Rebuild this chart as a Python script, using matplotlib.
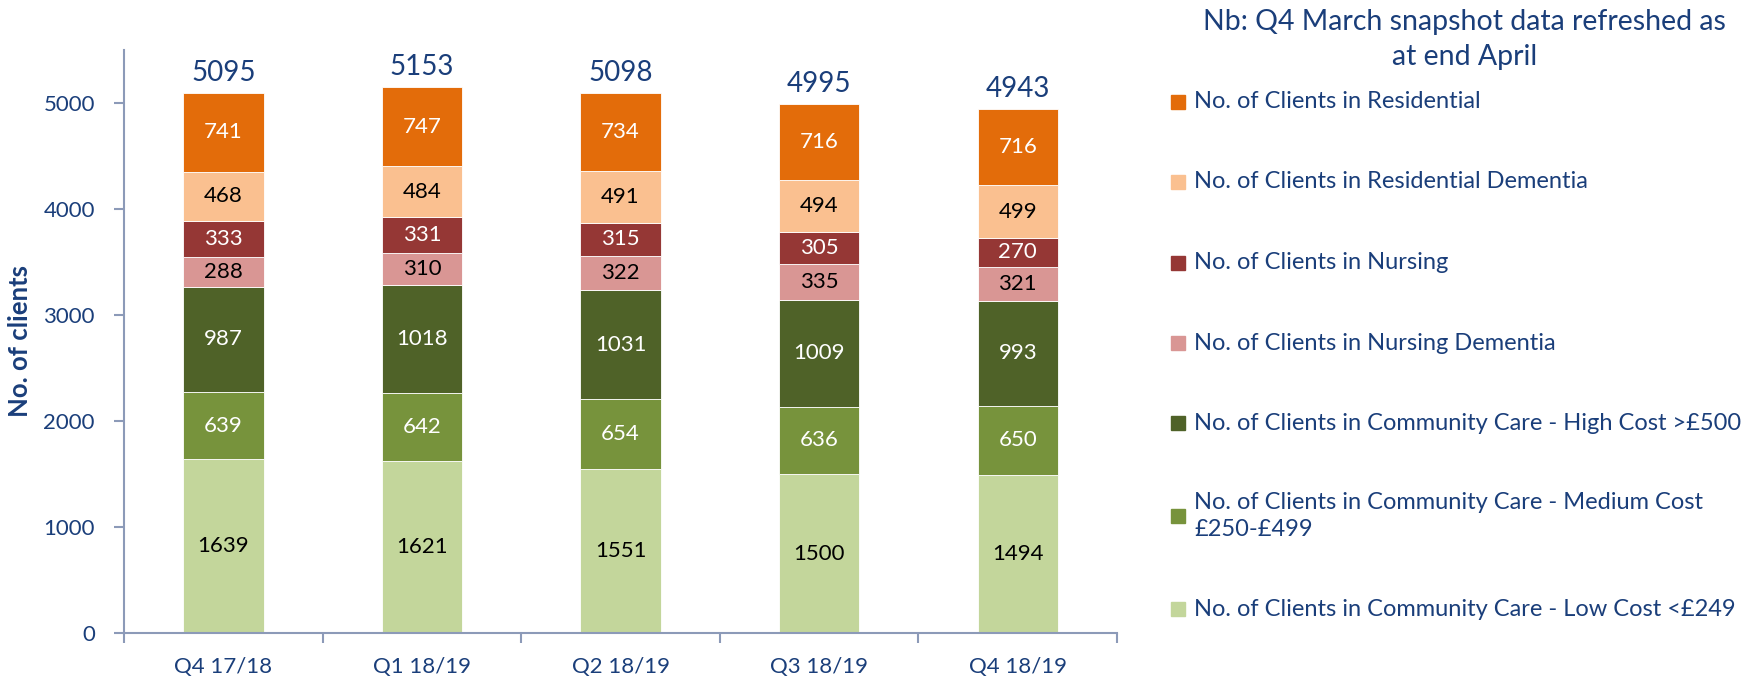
import matplotlib.pyplot as plt
import numpy as np
from matplotlib.patches import Rectangle

plt.rcParams['font.family'] = ['Lato', 'DejaVu Sans']

# data (bottom to top)
quarters = ['Q4 17/18', 'Q1 18/19', 'Q2 18/19', 'Q3 18/19', 'Q4 18/19']
low_cost = [1639, 1621, 1551, 1500, 1494]
medium_cost = [639, 642, 654, 636, 650]
high_cost = [987, 1018, 1031, 1009, 993]
nursing_dementia = [288, 310, 322, 335, 321]
nursing = [333, 331, 315, 305, 270]
residential_dementia = [468, 484, 491, 494, 499]
residential = [741, 747, 734, 716, 716]

series = [low_cost, medium_cost, high_cost, nursing_dementia, nursing,
          residential_dementia, residential]
labels = ['No. of Clients in Community Care - Low Cost <£249',
          'No. of Clients in Community Care - Medium Cost\n£250-£499',
          'No. of Clients in Community Care - High Cost >£500',
          'No. of Clients in Nursing Dementia',
          'No. of Clients in Nursing',
          'No. of Clients in Residential Dementia',
          'No. of Clients in Residential']
colors = ['#C3D69B', '#77933C', '#4F6228', '#D99694', '#953735', '#FAC090', '#E36C0A']
text_colors = ['black', 'white', 'white', 'black', 'white', 'black', 'white']

navy = '#1A3E7A'
axis_col = '#8C9AB8'

fig = plt.figure(figsize=(17.52, 6.79), dpi=100)
ax = fig.add_axes([0.0708, 0.0677, 0.5668, 0.8583])

x = np.arange(len(quarters))
bottom = np.zeros(len(quarters))
for vals, col, tc in zip(series, colors, text_colors):
    vals = np.array(vals)
    bars = ax.bar(x, vals, 0.405, bottom=bottom, color=col, edgecolor='white', linewidth=0.6)
    ax.bar_label(bars, labels=[str(v) for v in vals], label_type='center',
                 color=tc, fontsize=16)
    bottom += vals

totals = bottom
for xi, t in zip(x, totals):
    ax.annotate(f'{int(t)}', (xi, t), xytext=(0, 5), textcoords='offset points',
                ha='center', va='bottom', color=navy, fontsize=20)

ax.set_xlim(-0.5, len(quarters) - 0.5)
ax.set_ylim(0, 5500)
ax.set_yticks(np.arange(0, 5001, 1000))
ax.set_xticks(np.arange(-0.5, len(quarters), 1))
ax.set_xticklabels([])
ax.set_xticks(x, minor=True)
ax.set_xticklabels(quarters, minor=True)
ax.tick_params(axis='x', which='minor', length=0, pad=17, labelsize=16, labelcolor=navy)
ax.tick_params(axis='x', which='major', length=7, width=1.5, color=axis_col)
ax.tick_params(axis='y', length=7, width=1.5, color=axis_col, pad=14,
               labelsize=16, labelcolor=navy)
for s in ['top', 'right']:
    ax.spines[s].set_visible(False)
for s in ['left', 'bottom']:
    ax.spines[s].set_color(axis_col)
    ax.spines[s].set_linewidth(1.5)

fig.text(0.0115, 0.498, 'No. of clients', rotation=90, ha='center', va='center',
         color=navy, fontsize=18.5, fontweight='bold')

# note
fig.text(0.836, 0.942, 'Nb: Q4 March snapshot data refreshed as\nat end April',
         ha='center', va='center', color=navy, fontsize=20.5, linespacing=1.45)

# legend (top to bottom)
W, H = 1752, 679
row_y = [102, 182, 263, 343, 423, 516, 609]
for lab, col, yy in zip(labels[::-1], colors[::-1], row_y):
    fig.patches.append(Rectangle(((1171) / W, 1 - (yy + 7) / H), 14 / W, 14 / H,
                                 transform=fig.transFigure, color=col))
    fig.text(1194 / W, 1 - yy / H, lab, ha='left', va='center', color=navy,
             fontsize=17, linespacing=1.3)

fig.savefig('out.png', dpi=100)
